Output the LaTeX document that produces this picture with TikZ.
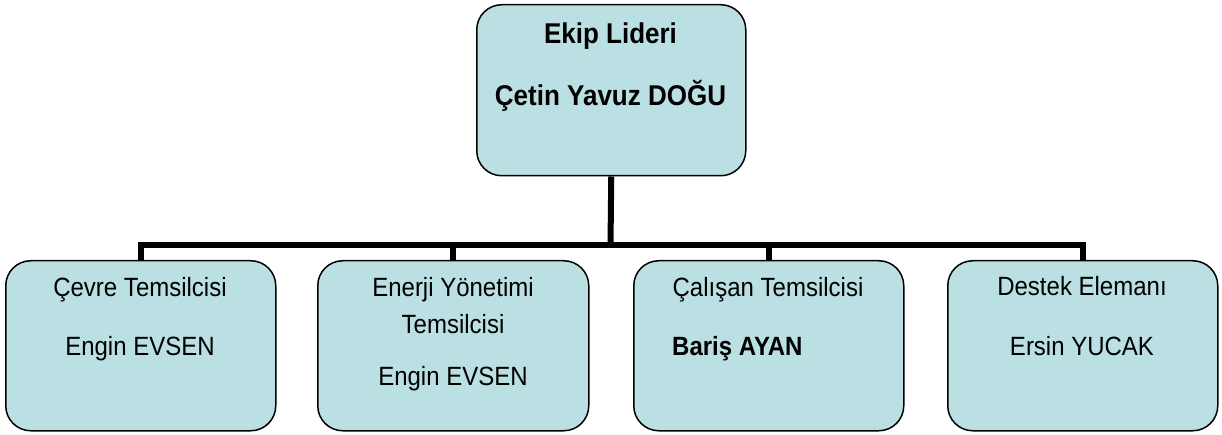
\documentclass[tikz,border=0pt]{standalone}
\usepackage{fontspec}
\setmainfont{Liberation Sans}
\definecolor{boxfill}{RGB}{187,224,227}
\newcommand{\tallt}[1]{\scalebox{1}[1.1]{#1}}
\begin{document}
\begin{tikzpicture}[x=1pt,y=-1pt,
  box/.style={draw=black, line width=1.5pt, fill=boxfill, rounded corners=25pt,
    minimum width=270pt, minimum height=170pt, inner sep=0pt, anchor=north west},
  conn/.style={draw=black, line width=6pt, line join=miter, line cap=butt},
  txt/.style={font=\fontsize{24}{28}\selectfont, anchor=base, inner sep=0pt},
  toptxt/.style={font=\fontsize{26}{30}\selectfont\bfseries, anchor=base, inner sep=0pt}]
\useasboundingbox (0,0) rectangle (1222,435);
\node[box, minimum width=269pt, minimum height=171pt] (top) at (476,4) {};
\node[box] (b1) at (5,260) {};
\node[box, minimum width=271pt] (b2) at (317,260) {};
\node[box] (b3) at (633,260) {};
\node[box] (b4) at (947,260) {};
\coordinate (j) at (610.5,245);
% connectors
\draw[conn] (top.south) -- (j);
\draw[conn] (b1.north) |- (b4.north |- j) -- (b4.north);
\draw[conn] (b2.north) -- (b2.north |- j);
\draw[conn] (b3.north) -- (b3.north |- j);
% texts
\node[toptxt] (t1) at (610.5,44) {\tallt{Ekip Lideri}};
\node[toptxt] (t2) at (610.5,106) {\tallt{Çetin Yavuz DOĞU}};
\node[txt] (a1) at (140,297) {\tallt{Çevre Temsilcisi}};
\node[txt] (a2) at (140,355) {\tallt{Engin EVSEN}};
\node[txt] (c1) at (453,297) {\tallt{Enerji Yönetimi}};
\node[txt] (c2) at (453,333) {\tallt{Temsilcisi}};
\node[txt] (c3) at (453,385) {\tallt{Engin EVSEN}};
\node[txt] (d1) at (768,297) {\tallt{Çalışan Temsilcisi}};
\node[txt, anchor=base west, font=\fontsize{24}{28}\selectfont\bfseries] (d2) at (672,355) {\tallt{Bariş AYAN}};
\node[txt] (e1) at (1082,296) {\tallt{Destek Elemanı}};
\node[txt] (e2) at (1082,355) {\tallt{Ersin YUCAK}};
\end{tikzpicture}
\end{document}
